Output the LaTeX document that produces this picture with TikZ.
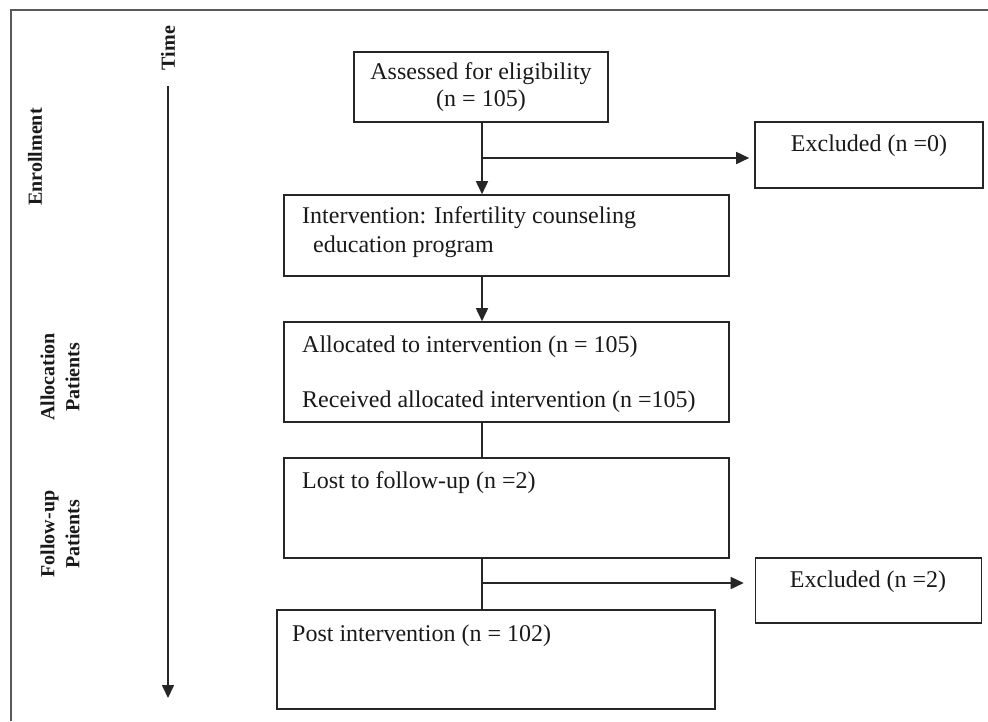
\documentclass[tikz,border=0pt]{standalone}
\usepackage{fontspec}
\setmainfont{Liberation Serif}
\usetikzlibrary{arrows.meta}
\begin{document}
\begin{tikzpicture}[x=1pt,y=-1pt,
  box/.style={draw=black!85, line width=1.6pt, rectangle, inner sep=0pt},
  btext/.style={inner sep=0pt, text=black!90, font=\fontsize{24}{27}\selectfont},
  side/.style={inner sep=0pt, rotate=90, align=center, text=black!90, font=\fontsize{20}{25}\selectfont\bfseries},
  conn/.style={draw=black!85, line width=1.6pt},
  arr/.style={conn, -{Triangle[length=13pt,width=12pt]}},
  frame/.style={draw=black!65, line width=2pt}
]
\useasboundingbox (0,0) rectangle (988,721);
% frame
\coordinate (fbl) at (11,721);
\coordinate (ftl) at (11,10);
\coordinate (ftr) at (988,10);
\draw[frame] (fbl) -- (ftl) -- (ftr);

% time axis
\node[side] (time) at (168,48) {Time};
\coordinate (t0) at (168,86);
\coordinate (t1) at (168,698);
\draw[arr] (t0) -- (t1);

% side labels
\node[side] (enr) at (35,157) {Enrollment};
\node[side] (alloc) at (60,377) {Allocation\\Patients};
\node[side] (fol) at (60,534) {Follow-up\\Patients};

% boxes
\node[box, minimum width=254pt, minimum height=70pt] (b1) at (481,87) {};
\node[btext, align=center] (b1t) at (481,87) {Assessed for eligibility\\(n = 105)};

\node[box, minimum width=228pt, minimum height=66pt] (ex0) at (869,155) {};
\node[btext] (ex0t) at (869,146) {Excluded (n =0)};

\node[box, minimum width=445pt, minimum height=81pt] (b2) at (506.5,235.5) {};
\node[btext, anchor=west] (b2t1) at (302,218) {Intervention: Infertility counseling};
\node[btext, anchor=west] (b2t2) at (313,247) {education program};

\node[box, minimum width=445pt, minimum height=100pt] (b3) at (506.5,372) {};
\node[btext, anchor=west] (b3t1) at (302,347) {Allocated to intervention (n = 105)};
\node[btext, anchor=west] (b3t2) at (302,402) {Received allocated intervention (n =105)};

\node[box, minimum width=445pt, minimum height=100pt] (b4) at (506.5,508) {};
\node[btext, anchor=west] (b4t) at (302,483) {Lost to follow-up (n =2)};

\node[box, minimum width=226pt, minimum height=65pt] (ex2) at (868.5,590.5) {};
\node[btext] (ex2t) at (868,582) {Excluded (n =2)};

\node[box, minimum width=438pt, minimum height=99pt] (b5) at (496,659.5) {};
\node[btext, anchor=west] (b5t) at (292,636) {Post intervention (n = 102)};

% connectors
\coordinate (c1) at (482,158);
\coordinate (c2) at (482,583);
\draw[conn] (b1.south -| c1) -- (c1);
\draw[arr] (c1) -- (b2.north -| c1);
\draw[arr, shorten >=5pt] (c1) -- (c1 -| ex0.west);
\draw[arr] (b2.south -| c1) -- (b3.north -| c1);
\draw[conn] (b3.south -| c1) -- (b4.north -| c1);
\draw[conn] (b4.south -| c2) -- (b5.north -| c2);
\draw[arr, shorten >=11pt] (c2) -- (c2 -| ex2.west);
\end{tikzpicture}
\end{document}
